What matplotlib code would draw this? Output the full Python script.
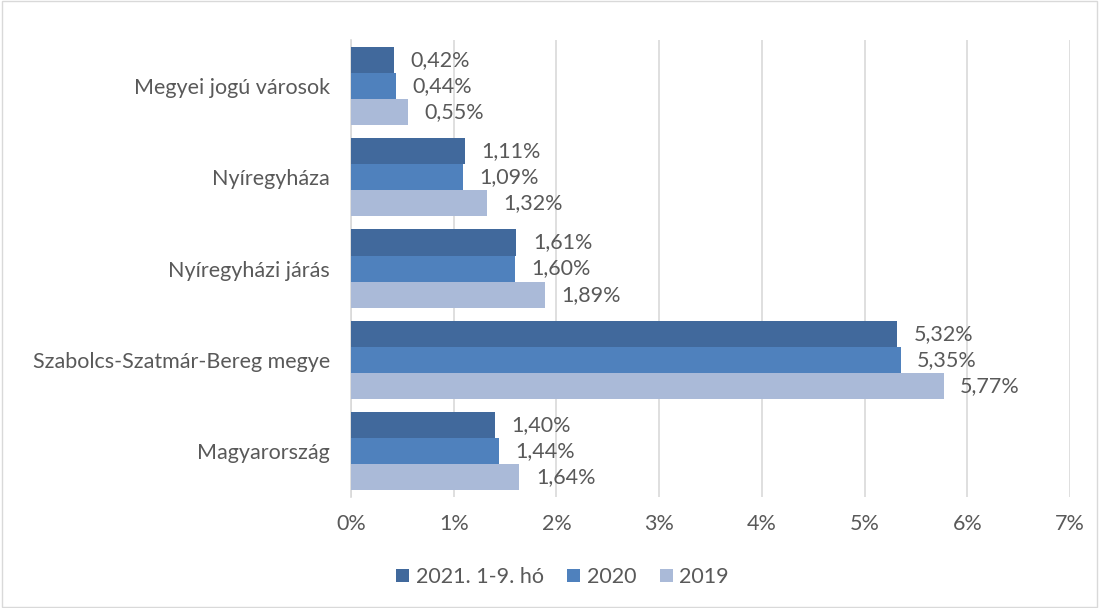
import numpy as np
import matplotlib.pyplot as plt
from matplotlib.patches import Rectangle

categories = ['Megyei jogú városok', 'Nyíregyháza', 'Nyíregyházi járás',
              'Szabolcs-Szatmár-Bereg megye', 'Magyarország']
series_names = ['2021. 1-9. hó', '2020', '2019']
v2021 = [0.42, 1.11, 1.61, 5.32, 1.40]
v2020 = [0.44, 1.09, 1.60, 5.35, 1.44]
v2019 = [0.55, 1.32, 1.89, 5.77, 1.64]
colors = ['#41699C', '#4F81BD', '#AABAD8']
txt = '#595959'
fs = 15.5

plt.rcParams['font.family'] = ['Lato', 'DejaVu Sans']

fig = plt.figure(figsize=(10.99, 6.08), dpi=100)
ax = fig.add_axes([0.3194, 0.1826, 0.6542, 0.7514])

n = len(categories)
y = np.arange(n)
bh = 0.285
for k, (name, vals) in enumerate(zip(series_names, [v2021, v2020, v2019])):
    pos = y + (k - 1) * bh
    ax.barh(pos, vals, height=bh, color=colors[k], label=name, zorder=3)
    for p, v in zip(pos, vals):
        ax.text(v + 0.16, p, ('%.2f%%' % v).replace('.', ','), va='center',
                ha='left', fontsize=fs, color=txt)

ax.set_ylim(n - 0.5, -0.5)
ax.set_xlim(0, 7)
ax.set_xticks(range(8))
ax.set_xticklabels(['%d%%' % i for i in range(8)])
ax.set_yticks(y)
ax.set_yticklabels(categories)
ax.tick_params(axis='both', length=0, labelsize=fs, colors=txt)
ax.tick_params(axis='x', pad=12)
ax.tick_params(axis='y', pad=15)
ax.grid(axis='x', color='#D9D9D9', linewidth=1.2, zorder=0)
for s in ['top', 'right', 'bottom']:
    ax.spines[s].set_visible(False)
ax.spines['left'].set_color('#D9D9D9')
ax.spines['left'].set_linewidth(1.2)

leg = fig.legend(loc='center', bbox_to_anchor=(0.512, 0.051), ncol=3, frameon=False,
                 fontsize=fs, handlelength=0.6, handleheight=0.6, handletextpad=0.3,
                 columnspacing=1.1)
for t in leg.get_texts():
    t.set_color(txt)

fig.patches.append(Rectangle((0.002, 0.002), 0.996, 0.996, transform=fig.transFigure,
                             fill=False, edgecolor='#D9D9D9', linewidth=1))

fig.savefig('out.png', dpi=100)
